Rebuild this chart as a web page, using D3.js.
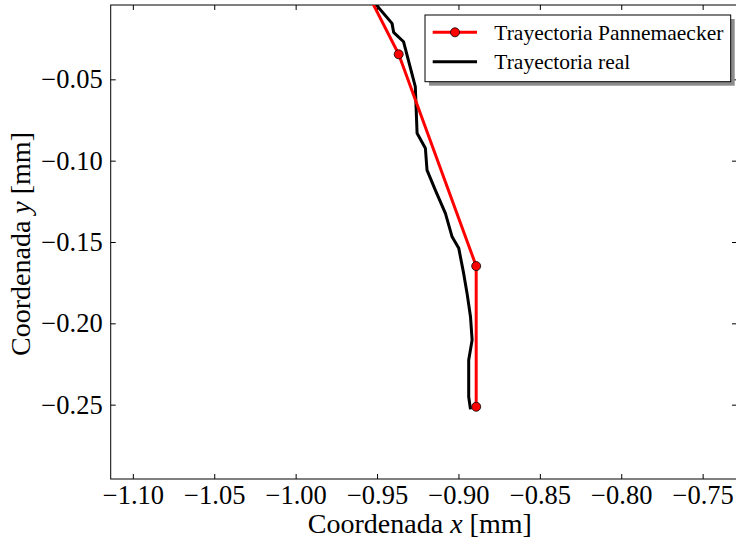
<!DOCTYPE html>
<html lang="es">
<head>
    <meta charset="utf-8" />
    <title>Trayectoria Pannemaecker vs real</title>
    <script src="https://cdn.jsdelivr.net/npm/d3@7"></script>
    <style>
        /* plain white page, serif text like the matplotlib original */
        body {
            margin: 0;
            background: #fff;
        }
        svg {
            display: block;
        }
        svg text {
            font-family: "Liberation Serif", "Times New Roman", "DejaVu Serif", serif;
            fill: #000;
        }
    </style>
</head>
<body>
<svg id="chart" width="736" height="542"></svg>

<script>
    // Trayectoria Pannemaecker (red, with markers)
    const pannX = [-0.9543, -0.9367, -0.8891, -0.8891];
    const pannY = [0.0, -0.0346, -0.1648, -0.2513];

    // Trayectoria real (black)
    const realX = [-0.9540, -0.9504, -0.9408, -0.9398, -0.9337, -0.9265, -0.9254, -0.9203, -0.9193,
                   -0.9142, -0.9080, -0.9039, -0.8998, -0.8968, -0.8947, -0.8926, -0.8916, -0.8937,
                   -0.8937, -0.8926];
    const realY = [0.0, -0.0043, -0.0156, -0.0211, -0.0269, -0.0545, -0.0832, -0.0924, -0.1058,
                   -0.1181, -0.1324, -0.1468, -0.1539, -0.1693, -0.1816, -0.1959, -0.2103, -0.2226,
                   -0.2451, -0.2529];

    const xTicks = [-1.10, -1.05, -1.00, -0.95, -0.90, -0.85, -0.80, -0.75];
    const yTicks = [-0.25, -0.20, -0.15, -0.10, -0.05];
    const xDomain = [-1.1136, -0.7289];
    const yDomain = [-0.2957, -0.0043];

    const legendLabels = ["Trayectoria Pannemaecker", "Trayectoria real"];

    // plot area in pixels
    const pL = 110.7, pR = 737, pT = 5, pB = 479;

    const svg = d3.select("#chart");

    const x = d3.scaleLinear().domain(xDomain).range([pL, pR]);
    const y = d3.scaleLinear().domain(yDomain).range([pB, pT]);

    const fmt = d => d.toFixed(2).replace("-", "\u2212");

    // clip lines to the axes box
    svg.append("clipPath").attr("id", "plot-clip")
        .append("rect")
        .attr("x", pL).attr("y", pT)
        .attr("width", pR - pL).attr("height", pB - pT);

    // axes: ticks point inward on all four sides
    function styleAxis(g) {
        g.attr("font-family", null).attr("font-size", null);
        g.select(".domain").remove();
        g.selectAll("line").attr("stroke", "#000").attr("stroke-width", 1);
        g.selectAll("text").style("font-size", "26.5px");
    }

    svg.append("g")
        .attr("transform", `translate(0,${pB})`)
        .call(d3.axisBottom(x).tickValues(xTicks).tickSize(-5).tickPadding(6).tickFormat(fmt))
        .call(styleAxis);
    svg.append("g")
        .attr("transform", `translate(0,${pT})`)
        .call(d3.axisTop(x).tickValues(xTicks).tickSize(-5).tickFormat(""))
        .call(styleAxis);
    svg.append("g")
        .attr("transform", `translate(${pL},0)`)
        .call(d3.axisLeft(y).tickValues(yTicks).tickSize(-5).tickPadding(8).tickFormat(fmt))
        .call(styleAxis);
    svg.append("g")
        .attr("transform", `translate(${pR},0)`)
        .call(d3.axisRight(y).tickValues(yTicks).tickSize(-5).tickFormat(""))
        .call(styleAxis);

    // frame
    svg.append("rect")
        .attr("x", pL).attr("y", pT)
        .attr("width", pR - pL).attr("height", pB - pT)
        .attr("fill", "none").attr("stroke", "#000").attr("stroke-width", 1);

    const line = d3.line().x(d => x(d[0])).y(d => y(d[1]));
    const plot = svg.append("g").attr("clip-path", "url(#plot-clip)");

    const realPts = realX.map((v, i) => [v, realY[i]]);
    const pannPts = pannX.map((v, i) => [v, pannY[i]]);

    plot.append("path")
        .attr("d", line(realPts))
        .attr("fill", "none").attr("stroke", "#000").attr("stroke-width", 3)
        .attr("stroke-linejoin", "round");

    plot.append("path")
        .attr("d", line(pannPts))
        .attr("fill", "none").attr("stroke", "#ff0000").attr("stroke-width", 3)
        .attr("stroke-linejoin", "round");

    plot.selectAll("circle.mk")
        .data(pannPts)
        .enter().append("circle")
        .attr("class", "mk")
        .attr("cx", d => x(d[0])).attr("cy", d => y(d[1]))
        .attr("r", 4.5)
        .attr("fill", "#ff0000").attr("stroke", "#000").attr("stroke-width", 0.8);

    // axis labels
    const xl = svg.append("text")
        .attr("x", (pL + pR) / 2 - 4).attr("y", 533)
        .attr("text-anchor", "middle").style("font-size", "28px");
    xl.append("tspan").text("Coordenada ");
    xl.append("tspan").attr("font-style", "italic").text("x");
    xl.append("tspan").text(" [mm]");

    const yl = svg.append("text")
        .attr("transform", `translate(30,${(pT + pB) / 2 + 2}) rotate(-90)`)
        .attr("text-anchor", "middle").style("font-size", "28px");
    yl.append("tspan").text("Coordenada ");
    yl.append("tspan").attr("font-style", "italic").text("y");
    yl.append("tspan").text(" [mm]");

    // legend with drop shadow
    const lg = svg.append("g").attr("transform", "translate(425,15)");
    lg.append("rect")
        .attr("x", 4).attr("y", 4).attr("width", 305.7).attr("height", 66.7)
        .attr("fill", "#8c8c8c");
    lg.append("rect")
        .attr("width", 305.7).attr("height", 66.7)
        .attr("fill", "#fff").attr("stroke", "#000").attr("stroke-width", 1);

    const rows = lg.selectAll("g.row")
        .data(legendLabels)
        .enter().append("g")
        .attr("class", "row")
        .attr("transform", (d, i) => `translate(0,${17.3 + i * 29.4})`);
    rows.append("line")
        .attr("x1", 7.7).attr("x2", 52)
        .attr("stroke", (d, i) => i === 0 ? "#ff0000" : "#000")
        .attr("stroke-width", 3);
    rows.filter((d, i) => i === 0).append("circle")
        .attr("cx", 30).attr("r", 4.5)
        .attr("fill", "#ff0000").attr("stroke", "#000").attr("stroke-width", 0.8);
    rows.append("text")
        .attr("x", 69.3).attr("y", 7.5)
        .style("font-size", "21.5px")
        .text(d => d);
</script>
</body>
</html>
